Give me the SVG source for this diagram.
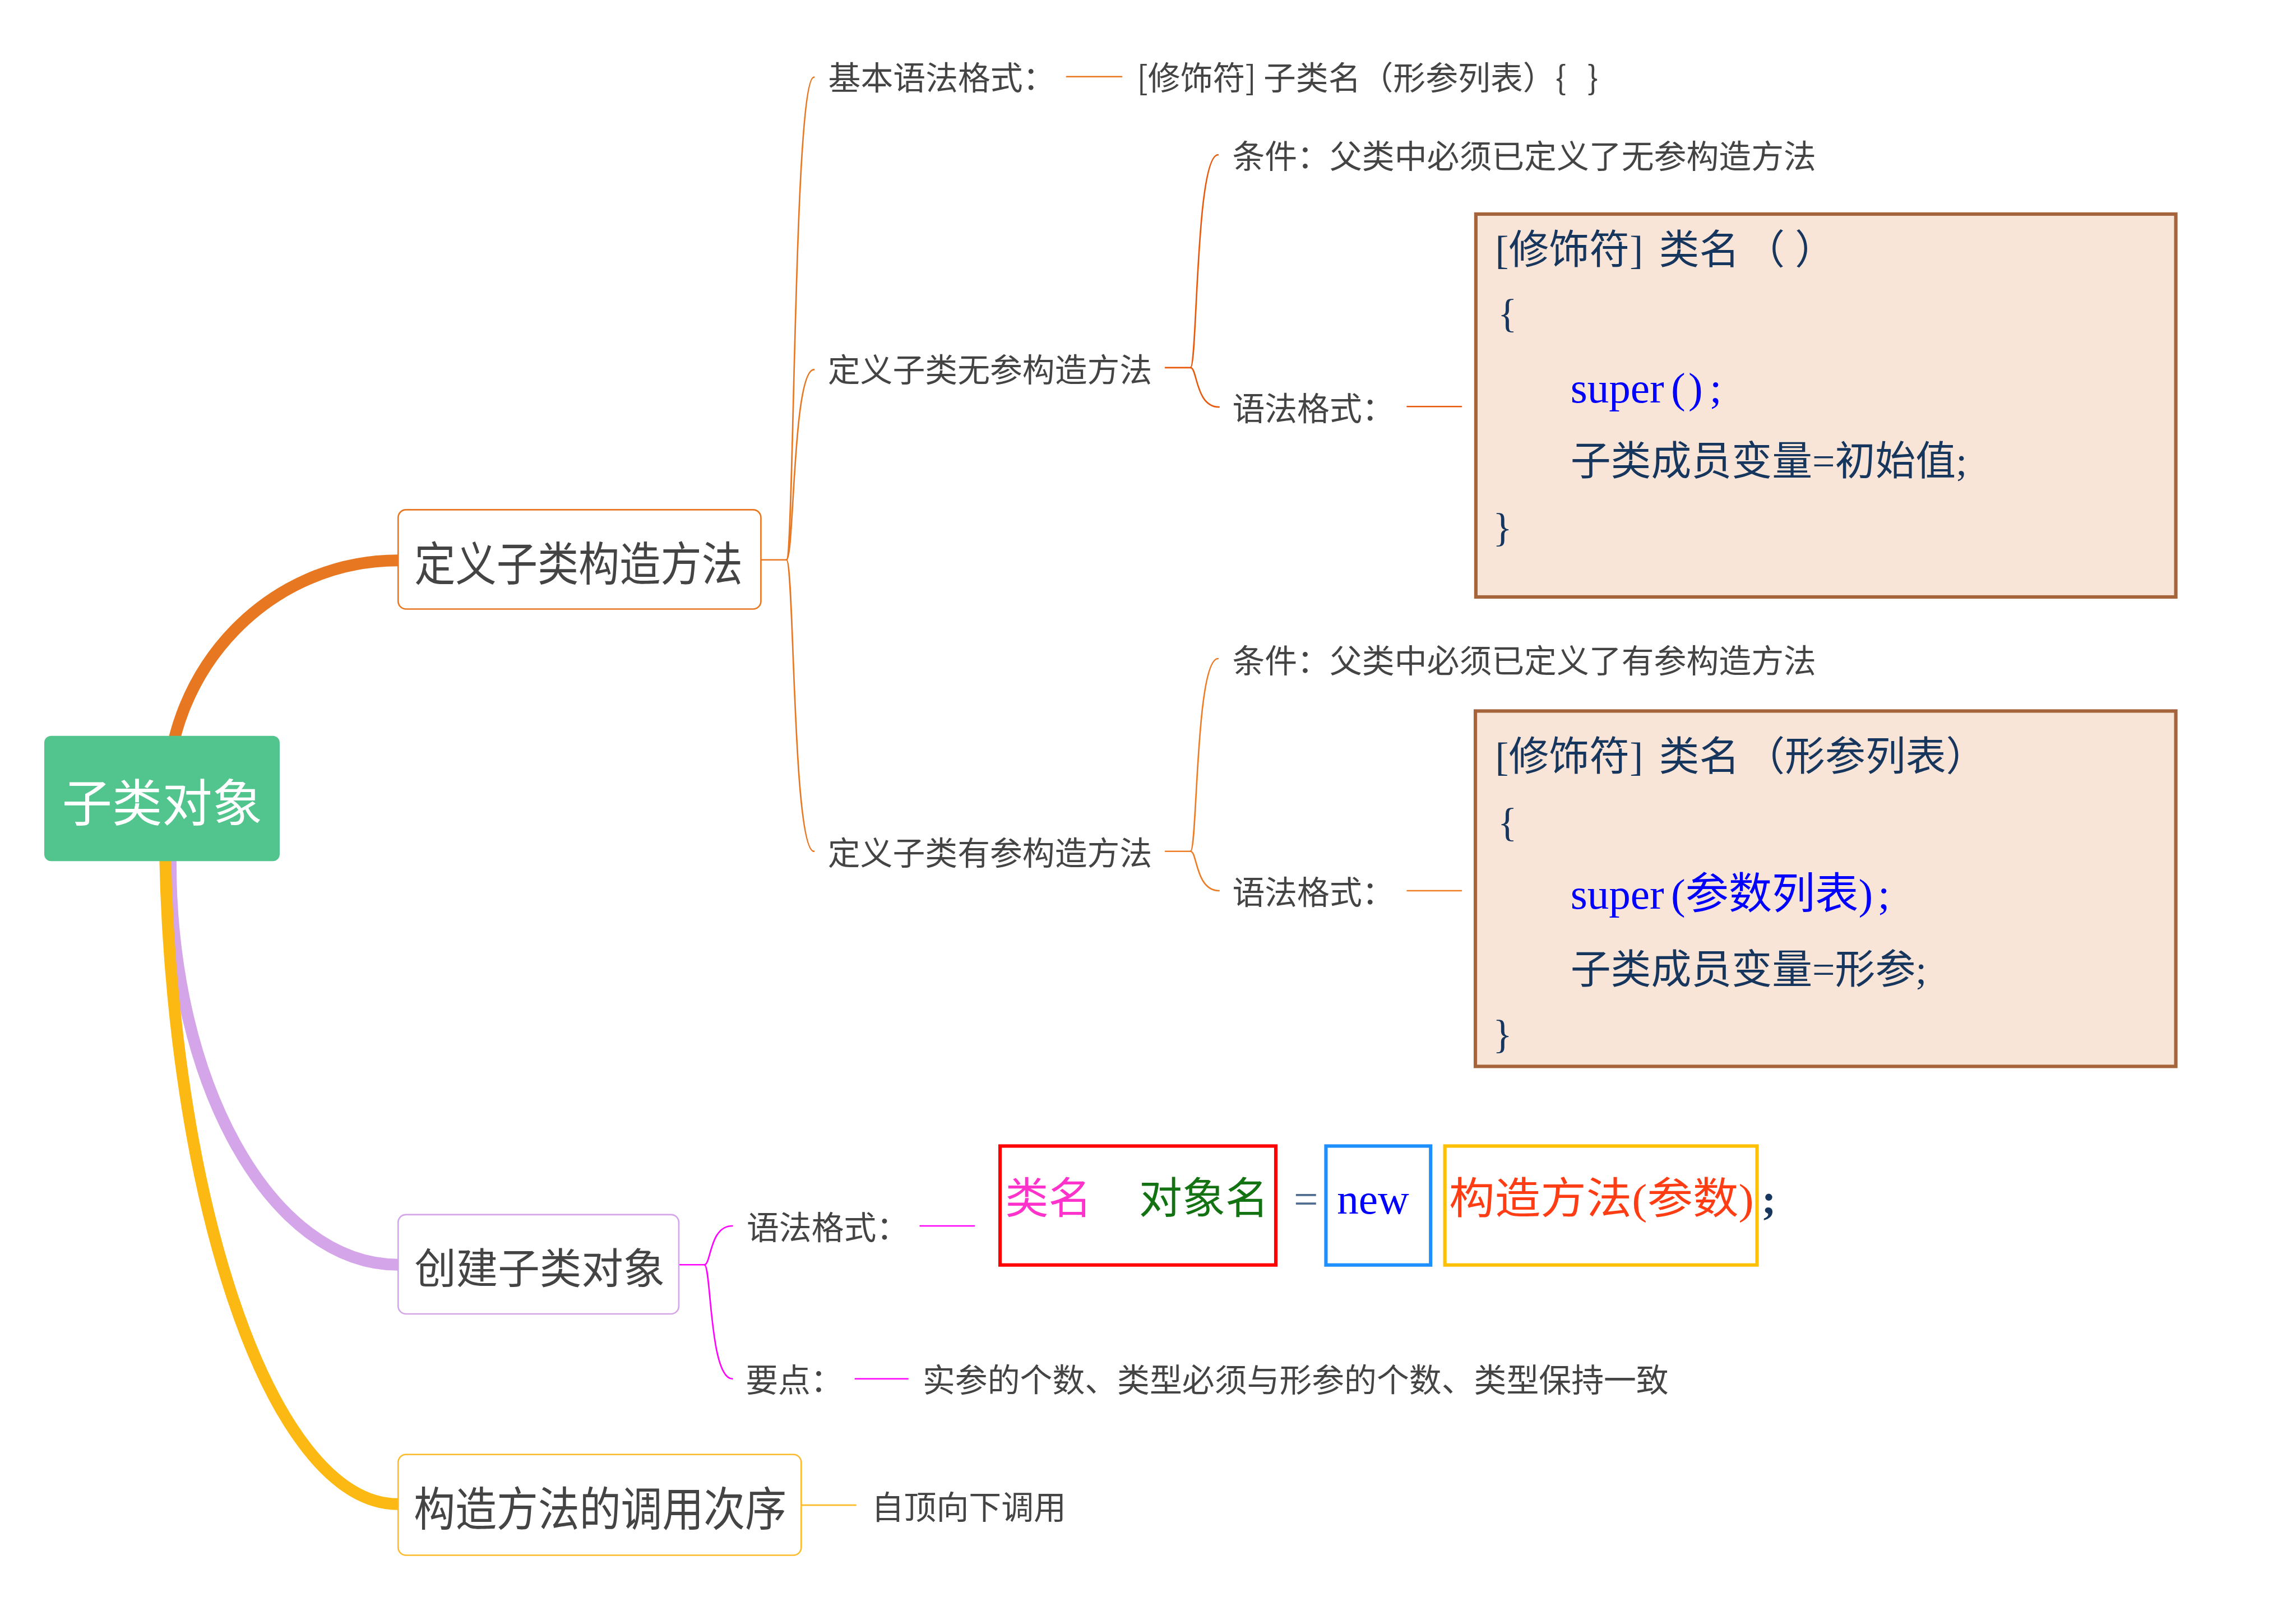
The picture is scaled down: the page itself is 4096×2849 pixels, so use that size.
<svg xmlns="http://www.w3.org/2000/svg" width="4096" height="2849" viewBox="0 0 4096 2849">
<style>
.cjk{font-family:"Noto Sans CJK SC","Noto Sans",sans-serif;fill:#444444}
.sub{font-size:66px}
.code{font-family:"Liberation Serif","Noto Sans CJK SC",serif;fill:#17365D;font-size:82px}
.blue{fill:#0000FF;font-size:88px}
.fx{font-family:"Liberation Serif","Noto Sans CJK SC",serif;font-size:88px}
.thick{fill:none;stroke-width:24;stroke-linecap:butt}
.thin{fill:none;stroke-width:3;stroke-linecap:round}
.codebox{fill:#F9E5D8;stroke:#A5643A;stroke-width:7}
.node{fill:#FFFFFF;stroke-width:3}
</style>
<rect width="4096" height="2849" fill="#FFFFFF"/>
<g transform="scale(0.8769)">
<g id="connectors">
<path class="thick" stroke="#E87722" d="M340,1624 C340,1357 550,1140 810,1140"/>
<path class="thick" stroke="#D4A5E8" d="M347,1650 L347,1753 C347,2206 553,2573 810,2573"/>
<path class="thick" stroke="#FDB913" d="M335,1650 C335,2417 548,3060 810,3060"/>
<g stroke="#E87722">
<path class="thin" stroke-width="4" d="M1548,1139 H1600"/>
<path class="thin" d="M1600,1139 C1616,1139 1614,157 1656,157"/>
<path class="thin" d="M1600,1139 C1616,1139 1612,752 1656,752"/>
<path class="thin" d="M1600,1139 C1616,1139 1612,1732 1656,1732"/>
<path class="thin" d="M2170,156 H2282"/>
</g>
<g stroke="#E8590C">
<path class="thin" d="M2371,748 H2422"/>
<path class="thin" d="M2422,748 C2436,748 2432,315 2478,315"/>
<path class="thin" d="M2422,748 C2436,748 2432,828 2480,828"/>
<path class="thin" d="M2863,827 H2973"/>
</g>
<g stroke="#EC7C26">
<path class="thin" d="M2371,1732 H2422"/>
<path class="thin" d="M2422,1732 C2436,1732 2432,1340 2478,1340"/>
<path class="thin" d="M2422,1732 C2436,1732 2432,1812 2480,1812"/>
<path class="thin" d="M2863,1812 H2973"/>
</g>
<g stroke="#FF00FF">
<path class="thin" stroke-width="4" d="M1381,2573 H1433"/>
<path class="thin" d="M1433,2573 C1447,2573 1443,2494 1490,2494"/>
<path class="thin" d="M1433,2573 C1447,2573 1443,2805 1490,2805"/>
<path class="thin" d="M1872,2494 H1982"/>
<path class="thin" d="M1740,2805 H1847"/>
</g>
<path class="thin" stroke="#FDBB2C" d="M1630,3062 H1741"/>
</g>

<g id="root">
<rect x="90" y="1497" width="479" height="255" rx="14" fill="#52C48D"/>
<text class="cjk" x="330" y="1671" font-size="102" text-anchor="middle" style="fill:#FFFFFF">子类对象</text>
</g>

<g id="node-define">
<rect class="node" x="810" y="1037" width="738" height="202" rx="16" stroke="#E87722"/>
<text class="cjk" x="843" y="1181" font-size="95" textLength="668" lengthAdjust="spacingAndGlyphs">定义子类构造方法</text>
</g>
<g id="node-create">
<rect class="node" x="810" y="2471" width="571" height="202" rx="16" stroke="#D4A5E8"/>
<text class="cjk" x="843" y="2611" font-size="85">创建子类对象</text>
</g>
<g id="node-order">
<rect class="node" x="810" y="2959" width="820" height="205" rx="16" stroke="#FDBB2C"/>
<text class="cjk" x="842" y="3104" font-size="95" textLength="758" lengthAdjust="spacingAndGlyphs">构造方法的调用次序</text>
</g>

<g id="basic-syntax">
<text class="cjk sub" x="1685" y="182">基本语法格式：</text>
<text class="cjk sub" x="2313" y="182" xml:space="preserve">[修饰符] 子类名（形参列表）{ <tspan dx="28">}</tspan></text>
</g>

<g id="no-arg">
<text class="cjk sub" x="1684" y="777">定义子类无参构造方法</text>
<text class="cjk sub" x="2507" y="342">条件：父类中必须已定义了无参构造方法</text>
<text class="cjk sub" x="2507" y="855">语法格式：</text>
</g>
<g id="code-no-arg">
<rect class="codebox" x="3002.5" y="435.5" width="1424" height="779"/>
<text class="code" x="3042" y="536" xml:space="preserve">[修饰符] <tspan dx="12">类名</tspan><tspan dx="10">（ ）</tspan></text>
<text class="code" x="3047" y="665">{</text>
<text class="code blue" x="3195" y="819">super<tspan dx="14">(</tspan><tspan dx="6">)</tspan><tspan dx="14">;</tspan></text>
<text class="code" x="3195" y="966">子类成员变量=初始值;</text>
<text class="code" x="3037" y="1101">}</text>
</g>

<g id="with-arg">
<text class="cjk sub" x="1684" y="1760">定义子类有参构造方法</text>
<text class="cjk sub" x="2507" y="1368">条件：父类中必须已定义了有参构造方法</text>
<text class="cjk sub" x="2507" y="1840">语法格式：</text>
</g>
<g id="code-with-arg">
<rect class="codebox" x="3001.5" y="1446.5" width="1425" height="723"/>
<text class="code" x="3042" y="1567" xml:space="preserve">[修饰符] <tspan dx="12">类名</tspan><tspan dx="10">（形参列表）</tspan></text>
<text class="code" x="3047" y="1700">{</text>
<text class="code blue" x="3195" y="1849">super<tspan dx="14">(参数列表)</tspan><tspan dx="10">;</tspan></text>
<text class="code" x="3195" y="2000">子类成员变量=形参;</text>
<text class="code" x="3037" y="2131">}</text>
</g>

<g id="create-syntax">
<text class="cjk sub" x="1519" y="2521">语法格式：</text>
<rect x="2034.5" y="2331.5" width="561" height="242" fill="#FFFFFF" stroke="#FF0000" stroke-width="7"/>
<rect x="2697.5" y="2331.5" width="213" height="242" fill="#FFFFFF" stroke="#1E8FFF" stroke-width="7"/>
<rect x="2939.5" y="2331.5" width="635" height="242" fill="#FFFFFF" stroke="#FFC000" stroke-width="7"/>
<text class="fx" x="2045" y="2469" font-size="87" fill="#FF33CC">类名</text>
<text class="fx" x="2317" y="2469" font-size="87" fill="#137313">对象名</text>
<text class="fx" x="2632" y="2469" font-size="87" fill="#4F6D8F">=</text>
<text class="fx" x="2720" y="2469" fill="#0000FF">new</text>
<text class="fx" x="2948" y="2469" font-size="93" fill="#FF3D14" textLength="620" lengthAdjust="spacingAndGlyphs">构造方法(参数)</text>
<text class="fx" x="3584" y="2469" font-size="87" font-weight="bold" fill="#17365D">;</text>
</g>
<g id="create-points">
<text class="cjk sub" x="1517" y="2832">要点：</text>
<text class="cjk sub" x="1877" y="2832">实参的个数、类型必须与形参的个数、类型保持一致</text>
</g>
<g id="order-detail">
<text class="cjk sub" x="1773" y="3090">自顶向下调用</text>
</g>
</g>
</svg>
